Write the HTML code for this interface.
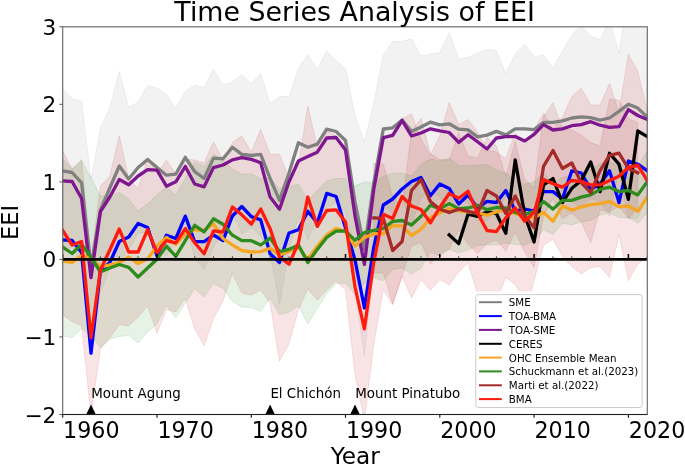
<!DOCTYPE html><html><head><meta charset="utf-8"><title>Time Series Analysis of EEI</title><style>html,body{margin:0;padding:0;background:#fff}svg{display:block}text{font-family:'DejaVu Sans','Liberation Sans',sans-serif;fill:#000}</style></head><body>
<svg width="685" height="464" viewBox="0 0 685 464">
<rect width="685" height="464" fill="#fff"/>
<defs><clipPath id="cp"><rect x="62.7" y="26.8" width="584.6" height="387.7"/></clipPath></defs>
<g clip-path="url(#cp)">
<path d="M62.7,89.0 L72.1,98.8 L81.6,101.5 L91.0,179.0 L100.4,128.0 L109.8,107.6 L119.3,71.5 L128.7,107.6 L138.1,102.1 L147.6,85.7 L157.0,87.9 L166.4,94.4 L175.8,108.2 L185.3,91.2 L194.7,85.2 L204.1,87.4 L213.5,69.3 L223.0,85.0 L232.4,82.0 L241.8,74.7 L251.3,83.5 L260.7,73.6 L270.1,103.6 L279.5,96.6 L289.0,96.6 L298.4,68.6 L307.8,54.6 L317.3,69.3 L326.7,51.0 L336.1,60.5 L345.5,68.6 L355.0,115.0 L364.4,142.0 L373.8,102.5 L383.3,55.0 L392.7,41.5 L402.1,41.5 L411.5,38.6 L421.0,56.1 L430.4,54.0 L439.8,52.8 L449.2,32.5 L458.7,59.0 L468.1,57.2 L477.5,53.3 L487.0,49.6 L496.4,50.7 L505.8,73.6 L515.2,53.9 L524.7,44.1 L534.1,56.8 L543.5,55.0 L553.0,67.7 L562.4,50.7 L571.8,35.3 L581.2,25.0 L590.7,36.4 L600.1,39.3 L609.5,20.0 L619.0,53.2 L628.4,-10.0 L637.8,-2.0 L647.2,37.0 L647.2,196.8 L637.8,218.2 L628.4,218.4 L619.0,169.6 L609.5,216.0 L600.1,201.1 L590.7,198.8 L581.2,208.8 L571.8,200.7 L562.4,190.9 L553.0,177.1 L543.5,189.8 L534.1,202.4 L524.7,213.7 L515.2,203.9 L505.8,196.2 L496.4,212.1 L487.0,220.6 L477.5,220.5 L468.1,202.6 L458.7,199.4 L449.2,215.1 L439.8,197.0 L430.4,190.4 L421.0,197.9 L411.5,224.2 L402.1,198.5 L392.7,214.1 L383.3,203.0 L373.8,263.5 L364.4,356.0 L355.0,289.0 L345.5,212.4 L336.1,202.5 L326.7,207.4 L317.3,218.9 L307.8,239.8 L298.4,217.0 L289.0,249.4 L279.5,304.2 L270.1,253.4 L260.7,235.2 L251.3,227.5 L241.8,234.1 L232.4,212.4 L223.0,232.6 L213.5,246.9 L204.1,269.6 L194.7,257.8 L185.3,223.4 L175.8,240.0 L166.4,256.0 L157.0,247.3 L147.6,233.1 L138.1,232.9 L128.7,250.4 L119.3,260.5 L109.8,268.4 L100.4,292.0 L91.0,355.0 L81.6,264.1 L72.1,246.2 L62.7,253.0Z" fill="#808080" fill-opacity="0.1" stroke="#808080" stroke-opacity="0.1" stroke-width="1" stroke-linejoin="round"/>
<path d="M62.7,151.0 L72.1,169.0 L81.6,160.0 L91.0,261.0 L100.4,186.0 L109.8,176.0 L119.3,135.8 L128.7,178.5 L138.1,188.4 L147.6,157.7 L157.0,173.0 L166.4,160.3 L175.8,174.0 L185.3,158.8 L194.7,160.0 L204.1,163.0 L213.5,141.7 L223.0,160.0 L232.4,142.4 L241.8,135.8 L251.3,152.2 L260.7,129.2 L270.1,154.4 L279.5,154.0 L289.0,178.5 L298.4,166.0 L307.8,105.8 L317.3,147.0 L326.7,131.0 L336.1,135.8 L345.5,150.0 L355.0,199.0 L364.4,237.6 L373.8,180.0 L383.3,139.2 L392.7,132.3 L402.1,118.7 L411.5,113.8 L421.0,139.4 L430.4,155.0 L439.8,135.4 L449.2,102.5 L458.7,124.6 L468.1,119.6 L477.5,132.0 L487.0,150.0 L496.4,152.0 L505.8,158.4 L515.2,133.0 L524.7,145.0 L534.1,130.0 L543.5,113.3 L553.0,128.6 L562.4,117.6 L571.8,96.6 L581.2,87.9 L590.7,105.0 L600.1,105.0 L609.5,83.5 L619.0,112.0 L628.4,53.9 L637.8,71.5 L647.2,110.0 L647.2,258.0 L637.8,264.0 L628.4,280.7 L619.0,234.5 L609.5,277.4 L600.1,266.5 L590.7,267.5 L581.2,274.0 L571.8,266.5 L562.4,256.6 L553.0,239.0 L543.5,245.5 L530.0,296.0 L524.7,302.0 L515.2,284.6 L505.8,277.4 L496.4,300.0 L487.0,300.0 L477.5,294.0 L468.1,263.0 L458.7,272.0 L449.2,285.0 L439.8,279.6 L430.4,290.5 L421.0,279.6 L411.5,298.0 L402.1,276.3 L392.7,304.7 L383.3,289.4 L373.8,344.0 L364.4,420.0 L355.0,375.0 L345.5,290.0 L336.1,281.0 L326.7,290.0 L317.3,300.0 L307.8,289.0 L298.4,309.7 L289.0,343.6 L279.5,361.2 L270.1,303.0 L260.7,290.0 L251.3,295.0 L241.8,293.0 L232.4,273.5 L223.0,301.0 L213.5,318.5 L204.1,345.5 L194.7,329.0 L185.3,298.4 L175.8,312.0 L166.4,309.4 L157.0,333.0 L147.6,306.0 L138.1,317.0 L128.7,325.8 L119.3,324.7 L109.8,337.8 L100.4,348.8 L91.0,416.0 L81.6,325.8 L72.1,321.4 L62.7,314.9Z" fill="#c8141e" fill-opacity="0.115" stroke="#c8141e" stroke-opacity="0.115" stroke-width="1" stroke-linejoin="round"/>
<path d="M62.7,158.3 L72.1,169.0 L81.6,160.5 L91.0,178.0 L100.4,196.0 L109.8,197.0 L119.3,192.5 L128.7,199.0 L138.1,211.0 L147.6,203.7 L157.0,195.0 L166.4,187.0 L175.8,195.0 L185.3,178.5 L194.7,162.0 L204.1,166.5 L213.5,154.0 L223.0,160.0 L232.4,169.0 L241.8,174.2 L251.3,174.0 L260.7,178.5 L270.1,178.0 L279.5,188.5 L289.0,186.5 L298.4,184.0 L307.8,201.0 L317.3,190.3 L326.7,181.0 L336.1,178.5 L345.5,178.5 L355.0,186.0 L364.4,181.8 L373.8,183.0 L383.3,176.3 L392.7,173.5 L402.1,173.0 L411.5,176.0 L421.0,164.3 L430.4,158.8 L439.8,161.0 L449.2,157.7 L458.7,165.5 L468.1,165.5 L477.5,165.0 L487.0,164.5 L496.4,170.0 L505.8,173.0 L515.2,180.4 L524.7,184.2 L534.1,181.6 L543.5,173.2 L553.0,183.7 L562.4,177.4 L571.8,175.8 L581.2,172.2 L590.7,169.4 L600.1,163.8 L609.5,161.5 L619.0,165.7 L628.4,163.5 L637.8,166.4 L647.2,150.5 L647.2,212.9 L637.8,223.4 L628.4,217.5 L619.0,217.5 L609.5,212.9 L600.1,215.0 L590.7,220.4 L581.2,222.0 L571.8,225.0 L562.4,223.4 L553.0,234.5 L543.5,229.8 L534.1,241.0 L524.7,245.0 L515.2,244.4 L505.8,243.0 L496.4,245.0 L487.0,245.0 L477.5,245.5 L468.1,250.0 L458.7,252.9 L449.2,249.5 L439.8,256.2 L430.4,251.8 L421.0,268.3 L411.5,274.0 L402.1,268.0 L392.7,269.3 L383.3,280.7 L373.8,277.8 L364.4,283.2 L355.0,294.6 L345.5,283.3 L336.1,283.7 L326.7,293.8 L317.3,308.5 L307.8,324.0 L298.4,306.0 L289.0,312.3 L279.5,314.7 L270.1,298.0 L260.7,311.5 L251.3,307.4 L241.8,307.2 L232.4,301.4 L223.0,288.4 L213.5,283.6 L204.1,297.3 L194.7,288.6 L185.3,302.9 L175.8,317.8 L166.4,305.2 L157.0,323.6 L147.6,332.3 L138.1,343.0 L128.7,335.6 L119.3,336.5 L109.8,339.0 L100.4,348.0 L91.0,336.0 L81.6,328.5 L72.1,338.0 L62.7,335.7Z" fill="#008000" fill-opacity="0.1" stroke="#008000" stroke-opacity="0.1" stroke-width="1" stroke-linejoin="round"/>
<path d="M373.8,163.0 L383.3,164.0 L392.7,197.0 L402.1,207.0 L411.5,131.0 L421.0,118.5 L430.4,153.7 L439.8,159.5 L449.2,160.0 L458.7,133.0 L468.1,156.0 L477.5,158.0 L487.0,137.5 L496.4,146.0 L505.8,176.0 L515.2,141.6 L524.7,179.4 L534.1,188.0 L543.5,116.3 L553.0,102.8 L562.4,128.0 L571.8,130.0 L581.2,135.0 L590.7,142.6 L600.1,146.0 L609.5,99.3 L619.0,100.0 L628.4,118.5 L637.8,122.8 L637.8,208.0 L628.4,218.5 L619.0,206.4 L609.5,211.5 L600.1,210.0 L590.7,242.4 L581.2,222.0 L571.8,213.0 L562.4,218.5 L553.0,198.2 L543.5,216.3 L534.1,267.4 L524.7,252.0 L515.2,232.0 L505.8,251.0 L496.4,240.0 L487.0,243.5 L477.5,253.5 L468.1,244.0 L458.7,230.0 L449.2,249.0 L439.8,253.5 L430.4,264.0 L421.0,242.5 L411.5,246.0 L402.1,276.0 L392.7,304.0 L383.3,273.0 L373.8,273.0Z" fill="#a52a2a" fill-opacity="0.12" stroke="#a52a2a" stroke-opacity="0.12" stroke-width="1" stroke-linejoin="round"/>
<path d="M62.7,171.0 L72.1,172.5 L81.6,182.8 L91.0,267.0 L100.4,210.0 L109.8,188.0 L119.3,166.0 L128.7,179.0 L138.1,167.5 L147.6,159.4 L157.0,167.6 L166.4,175.2 L175.8,174.1 L185.3,157.3 L194.7,171.5 L204.1,178.5 L213.5,158.1 L223.0,158.8 L232.4,147.2 L241.8,154.4 L251.3,155.5 L260.7,154.4 L270.1,178.5 L279.5,200.4 L289.0,173.0 L298.4,142.8 L307.8,147.2 L317.3,144.1 L326.7,129.2 L336.1,131.5 L345.5,140.5 L355.0,202.0 L364.4,249.0 L373.8,183.0 L383.3,129.0 L392.7,127.8 L402.1,120.0 L411.5,131.4 L421.0,127.0 L430.4,122.2 L439.8,124.9 L449.2,123.8 L458.7,129.2 L468.1,129.9 L477.5,136.9 L487.0,135.1 L496.4,131.4 L505.8,134.9 L515.2,128.9 L524.7,128.9 L534.1,129.6 L543.5,122.4 L553.0,122.4 L562.4,120.8 L571.8,118.0 L581.2,116.9 L590.7,117.6 L600.1,120.2 L609.5,118.0 L619.0,111.4 L628.4,104.2 L637.8,108.1 L647.2,116.9" fill="none" stroke="#808080" stroke-width="3.3" stroke-linejoin="round" stroke-linecap="square"/>
<path d="M62.7,240.0 L72.1,240.5 L81.6,252.6 L91.0,353.2 L100.4,271.0 L109.8,262.5 L119.3,241.5 L128.7,237.0 L138.1,223.5 L147.6,227.5 L157.0,256.0 L166.4,235.2 L175.8,238.5 L185.3,216.1 L194.7,241.7 L204.1,241.7 L213.5,235.0 L223.0,240.6 L232.4,216.0 L241.8,206.5 L251.3,216.6 L260.7,219.9 L270.1,253.8 L279.5,262.5 L289.0,233.0 L298.4,229.7 L307.8,211.3 L317.3,223.0 L326.7,193.4 L336.1,196.5 L345.5,228.0 L355.0,260.0 L364.4,308.0 L373.8,247.0 L383.3,205.0 L392.7,199.0 L402.1,189.0 L411.5,181.5 L421.0,177.4 L430.4,195.8 L439.8,184.0 L449.2,188.4 L458.7,204.0 L468.1,195.0 L477.5,208.0 L487.0,201.3 L496.4,202.5 L505.8,190.5 L515.2,211.0 L524.7,209.0 L534.1,211.0 L543.5,191.6 L553.0,191.6 L562.4,199.0 L571.8,170.8 L581.2,173.0 L590.7,189.4 L600.1,184.0 L609.5,170.8 L619.0,202.6 L628.4,161.0 L637.8,164.2 L647.2,170.8" fill="none" stroke="#0000ff" stroke-width="3.3" stroke-linejoin="round" stroke-linecap="square"/>
<path d="M62.7,181.0 L72.1,181.5 L81.6,198.5 L91.0,277.7 L100.4,211.7 L109.8,197.0 L119.3,179.5 L128.7,184.8 L138.1,176.0 L147.6,169.7 L157.0,170.2 L166.4,186.2 L175.8,181.8 L185.3,166.5 L194.7,184.0 L204.1,186.8 L213.5,167.6 L223.0,165.0 L232.4,159.9 L241.8,157.7 L251.3,159.4 L260.7,162.7 L270.1,197.1 L279.5,209.2 L289.0,181.8 L298.4,161.0 L307.8,156.6 L317.3,152.2 L326.7,138.0 L336.1,137.5 L345.5,150.1 L355.0,216.0 L364.4,264.4 L373.8,189.0 L383.3,137.7 L392.7,135.4 L402.1,120.5 L411.5,136.0 L421.0,133.0 L430.4,128.8 L439.8,130.8 L449.2,132.5 L458.7,142.4 L468.1,134.7 L477.5,141.7 L487.0,149.0 L496.4,138.0 L505.8,136.6 L515.2,136.6 L524.7,141.0 L534.1,134.4 L543.5,124.6 L553.0,130.0 L562.4,128.9 L571.8,125.7 L581.2,124.6 L590.7,121.7 L600.1,125.2 L609.5,127.4 L619.0,126.7 L628.4,109.6 L637.8,115.5 L647.2,119.4" fill="none" stroke="#7e1690" stroke-width="3.3" stroke-linejoin="round" stroke-linecap="square"/>
<path d="M449.2,234.9 L458.7,243.6 L468.1,214.1 L477.5,216.3 L487.0,211.9 L496.4,213.5 L505.8,233.2 L515.2,159.9 L524.7,215.0 L534.1,242.0 L543.5,185.0 L553.0,178.5 L562.4,202.6 L571.8,188.3 L581.2,180.7 L590.7,162.0 L600.1,191.6 L609.5,153.3 L619.0,164.2 L628.4,199.3 L637.8,131.0 L647.2,136.6" fill="none" stroke="#000000" stroke-width="3.3" stroke-linejoin="round" stroke-linecap="square"/>
<path d="M62.7,261.2 L72.1,262.3 L81.6,255.7 L91.0,258.0 L100.4,267.0 L109.8,264.9 L119.3,262.8 L128.7,257.0 L138.1,263.6 L147.6,259.0 L157.0,246.0 L166.4,237.4 L175.8,244.5 L185.3,234.0 L194.7,229.5 L204.1,230.5 L213.5,223.8 L223.0,238.5 L232.4,245.0 L241.8,250.5 L251.3,252.0 L260.7,251.6 L270.1,248.3 L279.5,254.9 L289.0,251.6 L298.4,247.2 L307.8,259.3 L317.3,246.0 L326.7,235.2 L336.1,228.4 L345.5,231.5 L355.0,246.1 L364.4,237.4 L373.8,233.9 L383.3,233.5 L392.7,225.6 L402.1,225.9 L411.5,235.5 L421.0,229.4 L430.4,217.4 L439.8,213.0 L449.2,208.6 L458.7,210.8 L468.1,211.9 L477.5,213.0 L487.0,215.2 L496.4,211.9 L505.8,210.2 L515.2,213.5 L524.7,216.8 L534.1,217.9 L543.5,212.4 L553.0,221.2 L562.4,205.8 L571.8,210.2 L581.2,206.9 L590.7,204.7 L600.1,203.6 L609.5,201.5 L619.0,206.9 L628.4,205.8 L637.8,211.3 L647.2,197.1" fill="none" stroke="#f5a623" stroke-width="3.3" stroke-linejoin="round" stroke-linecap="square"/>
<path d="M62.7,247.0 L72.1,253.5 L81.6,244.5 L91.0,257.0 L100.4,272.0 L109.8,268.0 L119.3,264.5 L128.7,267.3 L138.1,277.0 L147.6,268.0 L157.0,259.3 L166.4,246.1 L175.8,256.4 L185.3,240.7 L194.7,225.3 L204.1,231.9 L213.5,218.8 L223.0,224.2 L232.4,235.2 L241.8,240.7 L251.3,240.7 L260.7,245.0 L270.1,238.0 L279.5,251.6 L289.0,249.4 L298.4,245.0 L307.8,262.5 L317.3,249.4 L326.7,237.4 L336.1,231.1 L345.5,230.9 L355.0,240.3 L364.4,232.5 L373.8,230.4 L383.3,228.5 L392.7,221.4 L402.1,220.5 L411.5,225.0 L421.0,216.3 L430.4,205.3 L439.8,208.6 L449.2,203.6 L458.7,208.6 L468.1,208.0 L477.5,205.3 L487.0,209.7 L496.4,207.5 L505.8,208.0 L515.2,212.4 L524.7,214.6 L534.1,211.3 L543.5,201.5 L553.0,209.1 L562.4,200.4 L571.8,200.4 L581.2,197.1 L590.7,194.9 L600.1,189.4 L609.5,187.2 L619.0,191.6 L628.4,190.5 L637.8,194.9 L647.2,181.7" fill="none" stroke="#2e8b1e" stroke-width="3.3" stroke-linejoin="round" stroke-linecap="square"/>
<path d="M373.8,218.0 L383.3,218.5 L392.7,250.5 L402.1,241.5 L411.5,190.5 L421.0,179.6 L430.4,201.5 L439.8,209.2 L449.2,212.4 L458.7,209.2 L468.1,211.3 L477.5,213.5 L487.0,190.5 L496.4,196.0 L505.8,213.5 L515.2,196.0 L524.7,215.7 L534.1,227.7 L543.5,166.3 L553.0,150.5 L562.4,168.5 L571.8,163.0 L581.2,182.7 L590.7,192.5 L600.1,170.7 L609.5,155.4 L619.0,153.2 L628.4,168.5 L637.8,172.8" fill="none" stroke="#a52a2a" stroke-width="3.3" stroke-linejoin="round" stroke-linecap="square"/>
<path d="M62.7,230.5 L72.1,245.0 L81.6,241.5 L91.0,337.8 L100.4,270.0 L109.8,250.0 L119.3,229.0 L128.7,252.0 L138.1,252.0 L147.6,229.7 L157.0,252.7 L166.4,240.6 L175.8,242.8 L185.3,228.6 L194.7,242.8 L204.1,253.8 L213.5,230.8 L223.0,232.0 L232.4,207.0 L241.8,214.8 L251.3,224.2 L260.7,209.0 L270.1,228.6 L279.5,257.0 L289.0,264.3 L298.4,242.8 L307.8,197.0 L317.3,226.4 L326.7,210.5 L336.1,209.8 L345.5,222.0 L355.0,287.0 L364.4,328.8 L373.8,262.0 L383.3,214.3 L392.7,218.5 L402.1,196.5 L411.5,206.0 L421.0,209.5 L430.4,222.8 L439.8,207.5 L449.2,193.5 L458.7,198.3 L468.1,191.3 L477.5,213.0 L487.0,230.5 L496.4,231.6 L505.8,217.9 L515.2,208.0 L524.7,221.2 L534.1,212.4 L543.5,179.5 L553.0,183.8 L562.4,187.1 L571.8,180.5 L581.2,181.6 L590.7,184.9 L600.1,184.9 L609.5,180.5 L619.0,176.2 L628.4,167.4 L637.8,165.2 L647.2,180.5" fill="none" stroke="#ff1a0d" stroke-width="3.3" stroke-linejoin="round" stroke-linecap="square"/>
<path d="M62.7,259.4 H647.3" stroke="#000" stroke-width="2.7"/>
<path d="M62.7,259.4 v-5.5" stroke="#000" stroke-width="1.5"/>
<path d="M81.6,259.4 v-3.0" stroke="#000" stroke-width="0.8"/>
<path d="M100.4,259.4 v-3.0" stroke="#000" stroke-width="0.8"/>
<path d="M119.3,259.4 v-3.0" stroke="#000" stroke-width="0.8"/>
<path d="M138.1,259.4 v-3.0" stroke="#000" stroke-width="0.8"/>
<path d="M157.0,259.4 v-5.5" stroke="#000" stroke-width="1.5"/>
<path d="M175.8,259.4 v-3.0" stroke="#000" stroke-width="0.8"/>
<path d="M194.7,259.4 v-3.0" stroke="#000" stroke-width="0.8"/>
<path d="M213.5,259.4 v-3.0" stroke="#000" stroke-width="0.8"/>
<path d="M232.4,259.4 v-3.0" stroke="#000" stroke-width="0.8"/>
<path d="M251.3,259.4 v-5.5" stroke="#000" stroke-width="1.5"/>
<path d="M270.1,259.4 v-3.0" stroke="#000" stroke-width="0.8"/>
<path d="M289.0,259.4 v-3.0" stroke="#000" stroke-width="0.8"/>
<path d="M307.8,259.4 v-3.0" stroke="#000" stroke-width="0.8"/>
<path d="M326.7,259.4 v-3.0" stroke="#000" stroke-width="0.8"/>
<path d="M345.5,259.4 v-5.5" stroke="#000" stroke-width="1.5"/>
<path d="M364.4,259.4 v-3.0" stroke="#000" stroke-width="0.8"/>
<path d="M383.3,259.4 v-3.0" stroke="#000" stroke-width="0.8"/>
<path d="M402.1,259.4 v-3.0" stroke="#000" stroke-width="0.8"/>
<path d="M421.0,259.4 v-3.0" stroke="#000" stroke-width="0.8"/>
<path d="M439.8,259.4 v-5.5" stroke="#000" stroke-width="1.5"/>
<path d="M458.7,259.4 v-3.0" stroke="#000" stroke-width="0.8"/>
<path d="M477.5,259.4 v-3.0" stroke="#000" stroke-width="0.8"/>
<path d="M496.4,259.4 v-3.0" stroke="#000" stroke-width="0.8"/>
<path d="M515.2,259.4 v-3.0" stroke="#000" stroke-width="0.8"/>
<path d="M534.1,259.4 v-5.5" stroke="#000" stroke-width="1.5"/>
<path d="M553.0,259.4 v-3.0" stroke="#000" stroke-width="0.8"/>
<path d="M571.8,259.4 v-3.0" stroke="#000" stroke-width="0.8"/>
<path d="M590.7,259.4 v-3.0" stroke="#000" stroke-width="0.8"/>
<path d="M609.5,259.4 v-3.0" stroke="#000" stroke-width="0.8"/>
<path d="M628.4,259.4 v-5.5" stroke="#000" stroke-width="1.5"/>
<path d="M647.2,259.4 v-3.0" stroke="#000" stroke-width="0.8"/>
</g>
<path d="M86.2,414.5 L91.0,404.5 L95.8,414.5 Z" fill="#000"/>
<path d="M265.3,414.5 L270.1,404.5 L274.9,414.5 Z" fill="#000"/>
<path d="M350.2,414.5 L355.0,404.5 L359.8,414.5 Z" fill="#000"/>
<rect x="62.7" y="26.8" width="584.6" height="387.7" fill="none" stroke="#686868" stroke-width="1.15"/>
<path d="M62.7,414.5 H647.3" stroke="#222" stroke-width="1"/>
<path d="M62.7,414.5 h-3.3" stroke="#555" stroke-width="1"/>
<text x="56.3" y="422.5" font-size="21.6" text-anchor="end">−2</text>
<path d="M62.7,336.9 h-3.3" stroke="#555" stroke-width="1"/>
<text x="56.3" y="344.9" font-size="21.6" text-anchor="end">−1</text>
<path d="M62.7,259.4 h-3.3" stroke="#555" stroke-width="1"/>
<text x="56.3" y="267.4" font-size="21.6" text-anchor="end">0</text>
<path d="M62.7,181.9 h-3.3" stroke="#555" stroke-width="1"/>
<text x="56.3" y="189.9" font-size="21.6" text-anchor="end">1</text>
<path d="M62.7,104.3 h-3.3" stroke="#555" stroke-width="1"/>
<text x="56.3" y="112.3" font-size="21.6" text-anchor="end">2</text>
<path d="M62.7,26.8 h-3.3" stroke="#555" stroke-width="1"/>
<text x="56.3" y="34.8" font-size="21.6" text-anchor="end">3</text>
<path d="M62.7,414.5 v3.3" stroke="#111" stroke-width="1.1"/>
<text x="63.1" y="437.5" font-size="22.2">1960</text>
<path d="M157.0,414.5 v3.3" stroke="#111" stroke-width="1.1"/>
<text x="157.4" y="437.5" font-size="22.2">1970</text>
<path d="M251.3,414.5 v3.3" stroke="#111" stroke-width="1.1"/>
<text x="251.7" y="437.5" font-size="22.2">1980</text>
<path d="M345.5,414.5 v3.3" stroke="#111" stroke-width="1.1"/>
<text x="345.9" y="437.5" font-size="22.2">1990</text>
<path d="M439.8,414.5 v3.3" stroke="#111" stroke-width="1.1"/>
<text x="440.2" y="437.5" font-size="22.2">2000</text>
<path d="M534.1,414.5 v3.3" stroke="#111" stroke-width="1.1"/>
<text x="534.5" y="437.5" font-size="22.2">2010</text>
<path d="M628.4,414.5 v3.3" stroke="#111" stroke-width="1.1"/>
<text x="628.8" y="437.5" font-size="22.2">2020</text>
<text x="354.6" y="21" font-size="26.83" text-anchor="middle">Time Series Analysis of EEI</text>
<text x="355.2" y="464" font-size="23.2" text-anchor="middle">Year</text>
<text transform="translate(17.6,222.4) rotate(-90)" font-size="22.5" text-anchor="middle">EEI</text>
<text x="91.3" y="398" font-size="13.4">Mount Agung</text>
<text x="270.4" y="398" font-size="13.4">El Chichón</text>
<text x="355.3" y="398" font-size="13.4">Mount Pinatubo</text>
<rect x="474.5" y="291.5" width="170" height="118" fill="#fff"/>
<rect x="475.8" y="294.6" width="166.3" height="112.9" rx="2.2" fill="#fff" fill-opacity="0.8" stroke="#ccc" stroke-width="1"/>
<path d="M479,302.2 H501.8" stroke="#808080" stroke-width="2"/>
<text x="508.8" y="306.2" font-size="10.28">SME</text>
<path d="M479,316.1 H501.8" stroke="#0000ff" stroke-width="2"/>
<text x="508.8" y="320.1" font-size="10.28">TOA-BMA</text>
<path d="M479,329.9 H501.8" stroke="#7e1690" stroke-width="2"/>
<text x="508.8" y="333.9" font-size="10.28">TOA-SME</text>
<path d="M479,343.8 H501.8" stroke="#000" stroke-width="2"/>
<text x="508.8" y="347.8" font-size="10.28">CERES</text>
<path d="M479,357.6 H501.8" stroke="#f5a623" stroke-width="2"/>
<text x="508.8" y="361.6" font-size="10.28">OHC Ensemble Mean</text>
<path d="M479,371.4 H501.8" stroke="#2e8b1e" stroke-width="2"/>
<text x="508.8" y="375.4" font-size="10.28">Schuckmann et al.(2023)</text>
<path d="M479,385.3 H501.8" stroke="#a52a2a" stroke-width="2"/>
<text x="508.8" y="389.3" font-size="10.28">Marti et al.(2022)</text>
<path d="M479,399.1 H501.8" stroke="#ff1a0d" stroke-width="2"/>
<text x="508.8" y="403.1" font-size="10.28">BMA</text>
</svg></body></html>
